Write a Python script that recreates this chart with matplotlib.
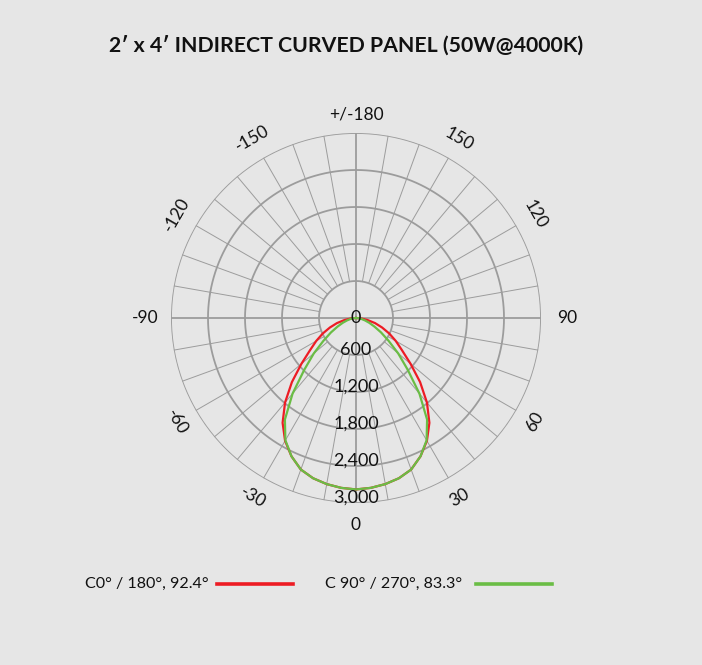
import numpy as np
import matplotlib
matplotlib.use("Agg")
import matplotlib.pyplot as plt

# ---- data ----
title = "2\u2032 x 4\u2032 INDIRECT CURVED PANEL (50W@4000K)"
angles_deg = [0, 5, 10, 15, 20, 25, 30, 35, 40, 45, 50, 55, 60, 65, 70, 75, 80, 85, 90]
c0_values = [2780, 2765, 2735, 2690, 2615, 2475, 2300, 2075, 1790, 1470, 1155, 910, 745, 595, 450, 320, 190, 85, 0]
c90_values = [2780, 2765, 2735, 2690, 2615, 2475, 2290, 2010, 1600, 1185, 893, 645, 470, 330, 230, 150, 90, 40, 0]
series_labels = ["C0\u00b0 / 180\u00b0, 92.4\u00b0", "C 90\u00b0 / 270\u00b0, 83.3\u00b0"]
series_colors = ["#ED1C24", "#6ABD45"]
radial_ticks = [0, 600, 1200, 1800, 2400, 3000]
radial_tick_labels = ["0", "600", "1,200", "1,800", "2,400", "3,000"]
angle_ticks = [0, 30, 60, 90, 120, 150, 180, -150, -120, -90, -60, -30]
angle_tick_labels = ["0", "30", "60", "90", "120", "150", "+/-180", "-150", "-120", "-90", "-60", "-30"]
rmax = 3000

FONT = ["Lato", "DejaVu Sans"]
plt.rcParams['font.family'] = FONT
BG = "#e6e6e6"
GRID = "#9c9c9c"

W, H = 702, 665
fig = plt.figure(figsize=(W / 100, H / 100), dpi=100, facecolor=BG)

cx, cy, R = 356, 318, 185
ax = fig.add_axes([(cx - R) / W, 1 - (cy + R) / H, 2 * R / W, 2 * R / H], projection='polar')
ax.set_facecolor("none")
ax.set_theta_zero_location('S')
ax.set_theta_direction(1)
ax.set_ylim(0, rmax)
ax.grid(False)
ax.spines['polar'].set_visible(False)
ax.set_xticks([])
ax.set_yticks([])

# circles
tt = np.linspace(0, 2 * np.pi, 721)
for r in radial_ticks[1:]:
    ax.plot(tt, np.full_like(tt, r), color=GRID, lw=1.3, zorder=1)
# spokes
for a in range(0, 360, 10):
    if a % 90 == 0:
        ax.plot([np.radians(a), np.radians(a)], [0, rmax], color=GRID, lw=1.3, zorder=1)
    else:
        ax.plot([np.radians(a), np.radians(a)], [radial_ticks[1], rmax], color=GRID, lw=0.7, zorder=1)

# curves (mirrored about nadir)
for vals, col, z in [(c0_values, series_colors[0], 3), (c90_values, series_colors[1], 4)]:
    a = np.array(angles_deg, dtype=float)
    v = np.array(vals, dtype=float)
    th = np.concatenate([-a[::-1], a[1:]])
    rv = np.concatenate([v[::-1], v[1:]])
    ax.plot(np.radians(th), rv, color=col, lw=1.6, zorder=z)

# radial labels
px = rmax / R
for r, lab in zip(radial_ticks, radial_tick_labels):
    ax.text(0, r - 5 * px if r > 0 else 0, lab, ha='center', va='center',
            fontsize=13, color="#111111", zorder=6, family=FONT)

# angle labels
for v, lab in zip(angle_ticks, angle_tick_labels):
    if abs(v) < 90:
        rot = v
    elif abs(v) == 90 or abs(v) == 180:
        rot = 0
    else:
        rot = v - 180 * np.sign(v)
    if abs(v) == 90:
        rr = 211
    elif abs(v) == 180:
        rr = 204
    else:
        rr = 207
    ax.text(np.radians(v), rr * px, lab, ha='center', va='center', rotation=rot,
            rotation_mode='anchor', fontsize=12.5, color="#111111", clip_on=False, family=FONT)

# title
fig.text(346.5 / W, 1 - 45 / H, title, ha='center', va='center', fontsize=15.3,
         fontweight='bold', color="#111111", family=FONT)

# legend
ly = 1 - 584 / H
fig.text(85 / W, ly, series_labels[0], ha='left', va='center', fontsize=11.6, color="#111111", family=FONT)
fig.add_artist(plt.Line2D([217 / W, 293 / W], [ly, ly], color=series_colors[0], lw=2.6))
fig.text(325 / W, ly, series_labels[1], ha='left', va='center', fontsize=11.6, color="#111111", family=FONT)
fig.add_artist(plt.Line2D([476 / W, 552 / W], [ly, ly], color=series_colors[1], lw=2.6))

fig.savefig("out.png", dpi=100, facecolor=BG)
